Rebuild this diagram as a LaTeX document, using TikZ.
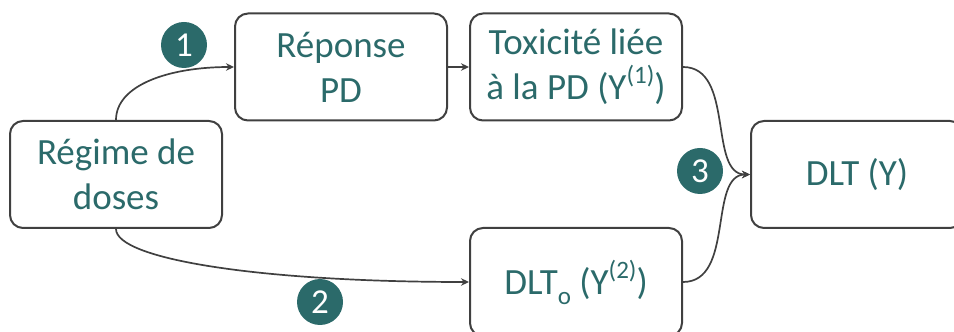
\documentclass[tikz,border=0pt]{standalone}
\usepackage{fontspec}
\setmainfont{Carlito}
\usepackage{tikz}
\usetikzlibrary{arrows.meta,positioning,calc}
\definecolor{sarcelle}{HTML}{2B6A6A}
\definecolor{trait}{HTML}{404040}
\newcommand{\expo}[1]{\raisebox{0.45em}{\fontsize{25}{25}\selectfont #1}}
\newcommand{\indice}[1]{\raisebox{-0.25em}{\fontsize{25}{25}\selectfont #1}}

\begin{document}
\begin{tikzpicture}[x=1pt,y=1pt,
  boite/.style={draw=trait, line width=2pt, rounded corners=13pt, minimum width=212pt, minimum height=107pt, align=center, text=sarcelle, font=\fontsize{37}{45}\selectfont, inner sep=0pt},
  etape/.style={circle, fill=sarcelle, text=white, minimum size=46pt, inner sep=0pt, font=\fontsize{35}{35}\selectfont},
  fleche/.style={every edge/.append style={draw=trait, line width=1.7pt, -{Stealth[length=8pt,width=7.5pt]}}}]
  \useasboundingbox (0,0) rectangle (954,332);
  \clip (0,0) rectangle (954,332);

  \node (reg) [boite] at (116,157.5) {Régime de\\doses};
  \node (rep) [boite] at (341,265) {Réponse\\PD};
  \node (tox) [boite] at (576,265) {Toxicité liée\\à la PD (Y\expo{(1)})};
  \node (dlto) [boite, minimum height=108pt] at (576,50) {DLT\indice{o} (Y\expo{(2)})};
  \node (dlt) [boite] at (857,157.5) {DLT (Y)};

  \node (un) [etape] at (184,287) {1};
  \node (deux) [etape] at (320,30) {2};
  \node (trois) [etape] at (700,161) {3};

  \path [fleche]
  (reg.north) edge [out=90, in=180, out distance=35pt, in distance=65pt] (rep.west)
  (reg.south) edge [out=-90, in=180, out distance=30pt, in distance=210pt] (dlto.west)
  (rep.east) edge (tox.west)
  (tox.east) edge [out=0, in=180, out distance=52pt, in distance=42pt] (dlt.west)
  (dlto.east) edge [out=0, in=180, out distance=52pt, in distance=42pt] (dlt.west);
\end{tikzpicture}
\end{document}
